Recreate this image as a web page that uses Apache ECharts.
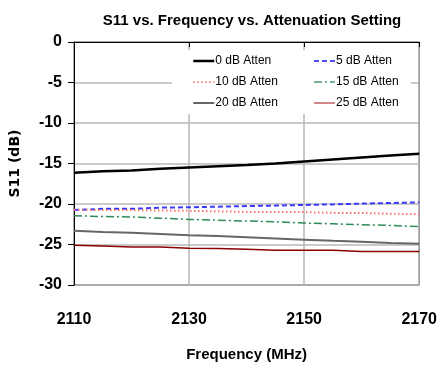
<!DOCTYPE html>
<html>
<head>
<meta charset="utf-8">
<script src="https://cdn.jsdelivr.net/npm/echarts@6/dist/echarts.min.js"></script>
<style>
  html, body { margin: 0; padding: 0; background: #fff; }
  #chart { width: 440px; height: 367px; }
</style>
</head>
<body>
<div id="chart"></div>
<script>
// Frequency points (MHz)
const freqs = [2110, 2115, 2120, 2125, 2130, 2135, 2140, 2145, 2150, 2155, 2160, 2165, 2170];

// S11 (dB) for each attenuation setting
const atten0  = [-16.15, -15.97, -15.85, -15.65, -15.5, -15.35, -15.2, -15.0, -14.75, -14.5, -14.25, -14.0, -13.8];
const atten5  = [-20.75, -20.6, -20.6, -20.45, -20.4, -20.33, -20.25, -20.2, -20.12, -20.05, -19.95, -19.88, -19.8];
const atten10 = [-20.7, -20.75, -20.75, -20.8, -20.85, -20.9, -20.98, -21.0, -21.0, -21.1, -21.1, -21.2, -21.25];
const atten15 = [-21.45, -21.55, -21.6, -21.75, -21.9, -22.0, -22.1, -22.2, -22.35, -22.45, -22.55, -22.65, -22.8];
const atten20 = [-23.3, -23.45, -23.55, -23.7, -23.85, -23.95, -24.1, -24.25, -24.4, -24.55, -24.65, -24.8, -24.9];
const atten25 = [-25.1, -25.2, -25.3, -25.3, -25.45, -25.5, -25.6, -25.7, -25.72, -25.72, -25.85, -25.85, -25.85];

const seriesNames = ['0 dB Atten', '5 dB Atten', '10 dB Atten', '15 dB Atten', '20 dB Atten', '25 dB Atten'];

const FONT = '"Liberation Sans", Arial, sans-serif';

function pairs(vals) {
  return freqs.map((f, i) => [f, vals[i]]);
}

const styles = [
  { color: '#000000', width: 2.5, type: 'solid' },
  { color: '#3a3aff', width: 2, type: [5, 3] },
  { color: '#ff7070', width: 2, type: [1.5, 2.5] },
  { color: '#2e8b57', width: 1.5, type: [8, 3, 2, 3] },
  { color: '#666666', width: 2, type: 'solid' },
  { color: '#8b0000', width: 1.5, type: 'solid' }
];
// legend swatch colours (the dark red line is shown lighter in its key)
const legendColors = ['#000000', '#5050ff', '#ff8080', '#4a9a70', '#666666', '#c06060'];

const values = [atten0, atten5, atten10, atten15, atten20, atten25];

const series = values.map((v, i) => ({
  name: seriesNames[i],
  type: 'line',
  data: pairs(v),
  symbol: 'none',
  animation: false,
  lineStyle: { color: styles[i].color, width: styles[i].width, type: styles[i].type }
}));

// legend swatches drawn as short line samples (symbol hidden)
const legendData = seriesNames.map((n, i) => ({
  name: n,
  itemStyle: { opacity: 0 },
  lineStyle: { color: legendColors[i], width: styles[i].width, type: styles[i].type }
}));

const legendCommon = {
  orient: 'vertical',
  top: 50,
  itemWidth: 21,
  itemHeight: 14,
  itemGap: 9,
  backgroundColor: '#ffffff',
  itemStyle: { opacity: 0 },
  textStyle: { fontFamily: FONT, fontSize: 12, color: '#000', padding: [0, 0, 0, -4] }
};

const option = {
  backgroundColor: '#ffffff',
  animation: false,
  title: {
    text: 'S11 vs. Frequency vs. Attenuation Setting',
    left: 247,
    top: 8,
    textAlign: 'center',
    textStyle: { fontFamily: FONT, fontSize: 15, fontWeight: 'bold', color: '#000' }
  },
  legend: [
    Object.assign({}, legendCommon, {
      left: 172,
      padding: [5, 26, 5, 20],
      data: [legendData[0], legendData[2], legendData[4]]
    }),
    Object.assign({}, legendCommon, {
      left: 300,
      padding: [5, 12, 5, 13],
      data: [legendData[1], legendData[3], legendData[5]]
    })
  ],
  grid: {
    left: 74, right: 19, top: 42, bottom: 82,
    show: true,
    borderColor: '#000',
    borderWidth: 1,
    containLabel: false
  },
  xAxis: {
    type: 'value',
    min: 2110, max: 2170, interval: 20,
    name: 'Frequency (MHz)',
    nameLocation: 'middle',
    nameGap: 62,
    nameTextStyle: { fontFamily: FONT, fontSize: 15, fontWeight: 'bold', color: '#000' },
    axisLine: { lineStyle: { color: '#000', width: 1 } },
    axisTick: { show: true, length: 5, inside: false, lineStyle: { color: '#000' } },
    axisLabel: {
      fontFamily: FONT, fontSize: 16, fontWeight: 'bold', color: '#000', margin: 27,
      formatter: v => String(v)
    },
    splitLine: { show: true, lineStyle: { color: '#b8b8b8', width: 1.5 } }
  },
  yAxis: {
    type: 'value',
    min: -30, max: 0, interval: 5,
    name: 'S11 (dB)',
    nameLocation: 'middle',
    nameGap: 52,
    nameTextStyle: { fontFamily: '"DejaVu Sans", sans-serif', fontSize: 14, fontWeight: 'bold', color: '#000' },
    axisLine: { show: true, lineStyle: { color: '#000', width: 1 } },
    axisTick: { show: true, length: 6, inside: false, lineStyle: { color: '#000' } },
    axisLabel: { fontFamily: FONT, fontSize: 16, fontWeight: 'bold', color: '#000', margin: 12 },
    splitLine: { show: true, lineStyle: { color: '#b8b8b8', width: 1.5 } }
  },
  series: series
};

const chart = echarts.init(document.getElementById('chart'), null, { renderer: 'canvas' });
chart.setOption(option);
</script>
</body>
</html>
